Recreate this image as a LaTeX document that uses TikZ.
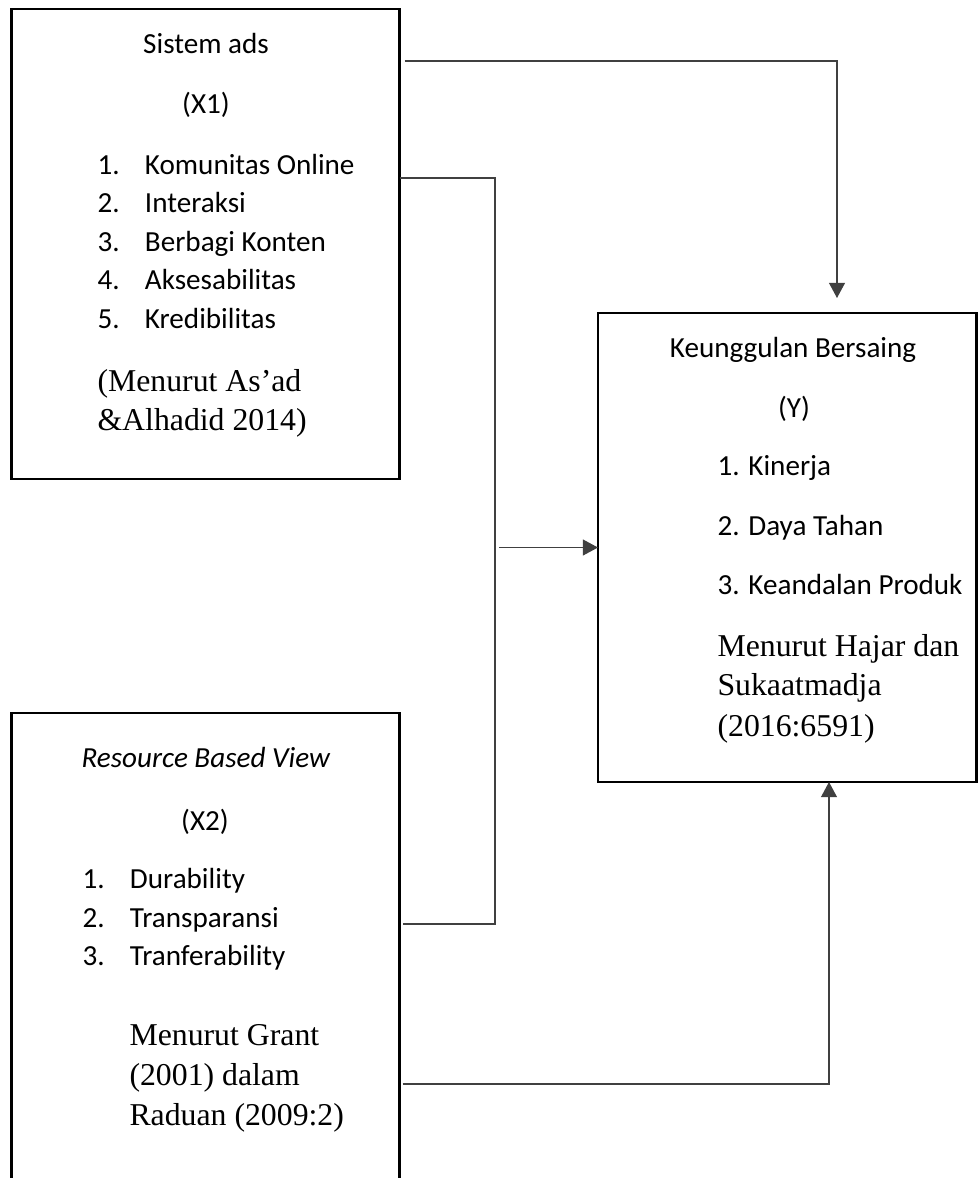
\documentclass[tikz,border=0pt]{standalone}
\usepackage{fontspec}
\setmainfont{Carlito}
\newfontfamily\timesfont{Liberation Serif}
\usetikzlibrary{arrows.meta,calc,fit}

\newcommand{\numbox}[1]{\makebox[0.63cm][l]{#1}}

\begin{document}
\begin{tikzpicture}[x=0.01327cm, y=-0.01327cm,
    box/.style={draw, line width=1pt, inner sep=0pt, outer sep=0pt},
    txt/.style={inner sep=0pt, font=\fontsize{11}{13}\selectfont},
    ref/.style={inner sep=0pt, font=\timesfont\fontsize{12}{14}\selectfont},
    link/.style={draw=black!75, line width=0.45pt},
    arr/.style={-{Triangle[length=5.7pt,width=6pt]}}]
      \useasboundingbox (0,0) rectangle (978,1178);
      \clip (0,0) rectangle (978,1178);

      % boxes
      \coordinate (saNW) at (11.3,9);
      \coordinate (saSE) at (399.7,479);
      \node (sa) [box, fit=(saNW)(saSE)] {};
      \coordinate (rbvNW) at (11.3,713);
      \coordinate (rbvSE) at (399.7,1200);
      \node (rbv) [box, fit=(rbvNW)(rbvSE)] {};
      \coordinate (kbNW) at (598,313);
      \coordinate (kbSE) at (976.5,782);
      \node (kb) [box, fit=(kbNW)(kbSE)] {};

      % Sistem ads
      \node (saTitle) [txt, anchor=base] at (206,53) {Sistem ads};
      \node (saVar) [txt, anchor=base] at (206,113) {(X1)};
      \node (saOne) [txt, anchor=base west] at (97,174) {\numbox{1.}Komunitas Online};
      \node (saTwo) [txt, anchor=base west] at (97,212.5) {\numbox{2.}Interaksi};
      \node (saThree) [txt, anchor=base west] at (97,251) {\numbox{3.}Berbagi Konten};
      \node (saFour) [txt, anchor=base west] at (97,289.5) {\numbox{4.}Aksesabilitas};
      \node (saFive) [txt, anchor=base west] at (97,328) {\numbox{5.}Kredibilitas};
      \node (saRefA) [ref, anchor=base west] at (97,391) {(Menurut As’ad};
      \node (saRefB) [ref, anchor=base west] at (97,430) {\&Alhadid 2014)};

      % Resource Based View
      \node (rbvTitle) [txt, anchor=base] at (206,767) {\textit{Resource Based View}};
      \node (rbvVar) [txt, anchor=base] at (205,830) {(X2)};
      \node (rbvOne) [txt, anchor=base west] at (82,888) {\numbox{1.}Durability};
      \node (rbvTwo) [txt, anchor=base west] at (82,927) {\numbox{2.}Transparansi};
      \node (rbvThree) [txt, anchor=base west] at (82,965) {\numbox{3.}Tranferability};
      \node (rbvRefA) [ref, anchor=base west] at (129,1045) {Menurut Grant};
      \node (rbvRefB) [ref, anchor=base west] at (129,1085) {(2001) dalam};
      \node (rbvRefC) [ref, anchor=base west] at (129,1125) {Raduan (2009:2)};

      % Keunggulan Bersaing
      \node (kbTitle) [txt, anchor=base] at (793,357) {Keunggulan Bersaing};
      \node (kbVar) [txt, anchor=base] at (794,417) {(Y)};
      \node (kbOne) [txt, anchor=base west] at (717,475) {1. Kinerja};
      \node (kbTwo) [txt, anchor=base west] at (717,535) {2. Daya Tahan};
      \node (kbThree) [txt, anchor=base west] at (717,594) {3. Keandalan Produk};
      \node (kbRefA) [ref, anchor=base west] at (717,656) {Menurut Hajar dan};
      \node (kbRefB) [ref, anchor=base west] at (717,695) {Sukaatmadja};
      \node (kbRefC) [ref, anchor=base west] at (717,736) {(2016:6591)};

      % connectors
      \coordinate (topBend) at (837,61);
      \coordinate (brTop) at (495,178);
      \coordinate (brBot) at (495,924);
      \coordinate (lowBend) at (829,1084);
      \draw [link, arr] ($(sa.east |- topBend)+(5,0)$) -- (topBend) -- ($(topBend |- kb.north)+(0,-15)$);
      \draw [link] (sa.east |- brTop) -- (brTop) -- (brBot) -- ($(rbv.east |- brBot)+(3,0)$);
      \draw [link, arr] ($(brTop |- kb.west)+(4,0)$) -- (kb.west);
      \draw [link, arr] ($(rbv.east |- lowBend)+(3,0)$) -- (lowBend) -- (lowBend |- kb.south);
\end{tikzpicture}
\end{document}
